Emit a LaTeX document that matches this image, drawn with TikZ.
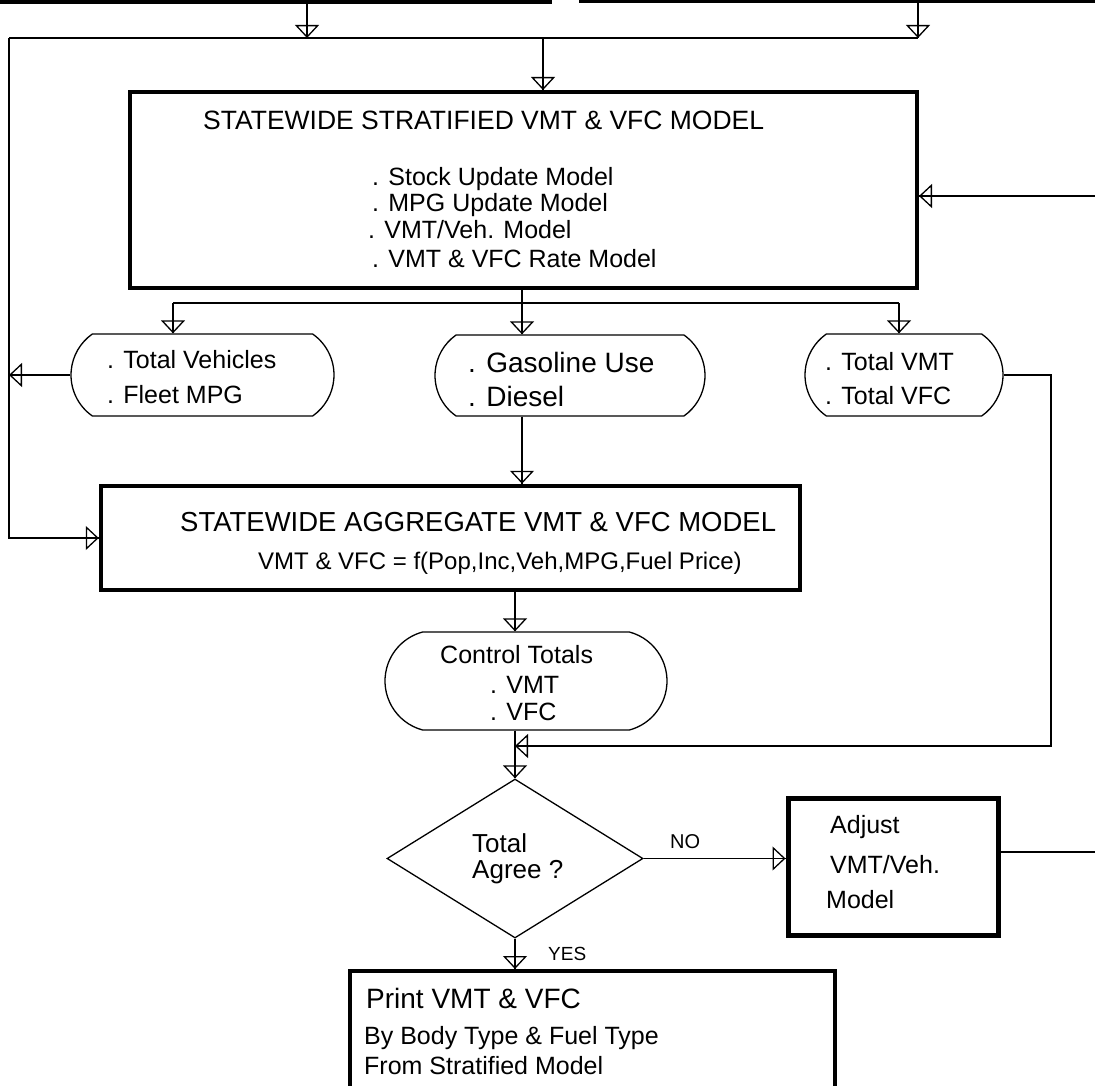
\documentclass[tikz,border=0pt]{standalone}
\usepackage{fontspec}
\setmainfont{Liberation Sans}
\usetikzlibrary{arrows.meta,positioning,calc,shapes.misc,shapes.geometric}

\tikzset{
  line/.style={draw, line width=1.3pt},
  flow/.style={line, -{Triangle[open, length=13pt, width=24pt]}, postaction={draw, arrows=-}},
  box/.style={draw, line width=4pt, inner sep=0pt},
  term/.style={draw, line width=1.3pt, rounded rectangle, rounded rectangle arc length=110, inner sep=0pt},
  txt/.style={anchor=base west, inner sep=0pt, font=\fontsize{25}{30}\selectfont},
  lbl/.style={anchor=base west, inner sep=0pt, font=\fontsize{19}{22}\selectfont}
}

\begin{document}
\begin{tikzpicture}[x=1pt, y=-1pt]
\useasboundingbox (0,0) rectangle (1095,1086);
\clip (0,0) rectangle (1095,1086);

% boxes cut off by the top edge
\node[box, line width=4.3pt, minimum width=570pt, minimum height=62pt] (topL) at (265,-29) {};
\node[box, line width=3pt, minimum width=535pt, minimum height=61.5pt] (topR) at (847.5,-29.25) {};

% main blocks
\node[box, minimum width=787pt, minimum height=196pt] (strat) at (523.5,190) {};
\node[box, line width=4.5pt, minimum width=699pt, minimum height=104pt] (agg) at (450.5,538) {};
\node[term, minimum width=263pt, minimum height=82pt] (veh) at (202.5,375) {};
\node[term, minimum width=270pt, minimum height=81pt] (gas) at (570,375.5) {};
\node[term, minimum width=198pt, minimum height=82pt] (vmt) at (904,375) {};
\node[term, rounded rectangle arc length=150, minimum width=282pt, minimum height=98pt] (ctl) at (526,681) {};
\node[draw, line width=1.3pt, diamond, inner sep=0pt, minimum width=256pt, minimum height=159pt] (dec) at (515,858.5) {};
\node[box, line width=5pt, minimum width=210pt, minimum height=137pt] (adj) at (893,866.5) {};
\node[box, minimum width=485pt, minimum height=140pt] (prt) at (592.5,1041) {};

% texts
\node[txt, font=\fontsize{26.5}{30}\selectfont] (stratT) at (203,130) {STATEWIDE STRATIFIED VMT \& VFC MODEL};
\node[txt] (stratA) at (372,186) {. Stock Update Model};
\node[txt] (stratB) at (372,212) {. MPG Update Model};
\node[txt] (stratC) at (368,239) {. VMT/Veh. Model};
\node[txt] (stratD) at (372,267) {. VMT \& VFC Rate Model};

\node[txt, font=\fontsize{27.5}{32}\selectfont] (aggT) at (180,531) {STATEWIDE AGGREGATE VMT \& VFC MODEL};
\node[txt, font=\fontsize{24}{28}\selectfont] (aggF) at (258,569) {VMT \& VFC = f(Pop,Inc,Veh,MPG,Fuel Price)};

\node[txt] (vehA) at (107,368) {. Total Vehicles};
\node[txt] (vehB) at (107,403) {. Fleet MPG};
\node[txt, font=\fontsize{28}{32}\selectfont] (gasA) at (468,372) {. Gasoline Use};
\node[txt, font=\fontsize{28}{32}\selectfont] (gasB) at (468,406) {. Diesel};
\node[txt] (vmtA) at (825,370) {. Total VMT};
\node[txt] (vmtB) at (825,404) {. Total VFC};

\node[txt] (ctlA) at (440,663) {Control Totals};
\node[txt] (ctlB) at (490,693) {. VMT};
\node[txt] (ctlC) at (490,720) {. VFC};

\node[txt, font=\fontsize{26}{30}\selectfont] (decA) at (472,852) {Total};
\node[txt, font=\fontsize{26}{30}\selectfont] (decB) at (472,878) {Agree ?};

\node[txt] (adjA) at (830,833) {Adjust};
\node[txt] (adjB) at (830,873) {VMT/Veh.};
\node[txt] (adjC) at (826,908) {Model};

\node[txt, font=\fontsize{28}{32}\selectfont] (prtA) at (366,1008) {Print VMT \& VFC};
\node[txt] (prtB) at (364,1044) {By Body Type \& Fuel Type};
\node[txt] (prtC) at (364,1074) {From Stratified Model};

\node[lbl, font=\fontsize{20}{24}\selectfont] (no) at (670,848) {NO};
\node[lbl] (yes) at (548,960) {YES};

% junction points
\coordinate (tapL) at (307,38);
\coordinate (tapR) at (918,38);
\coordinate (busL) at (9,38);
\coordinate (tapS) at (543,38);
\coordinate (brC) at (522,303);
\coordinate (brL) at (173,303);
\coordinate (brR) at (899,303);
\coordinate (colD) at (515,746);
\coordinate (fbR) at (1051,746);
\coordinate (loopB) at (1110,852);
\coordinate (loopT) at (1110,196);

% connectors
\draw[flow] (topL.south -| tapL) -- (tapL);
\draw[flow] (topR.south -| tapR) -- (tapR);
\draw[line] (busL) -- (tapR);
\draw[flow] (tapS) -- (tapS |- strat.north);
\draw[flow] (busL) |- (agg.west);

\draw[line] (strat.south -| brC) -- (brC);
\draw[line] (brL) -- (brR);
\draw[flow] (brL) -- (brL |- veh.north);
\draw[flow] (brC) -- (brC |- gas.north);
\draw[flow] (brR) -- (brR |- vmt.north);

\draw[flow] (veh.west) -- (veh.west -| busL);
\draw[flow] (brC |- gas.south) -- (brC |- agg.north);
\draw[flow] (colD |- agg.south) -- (colD |- ctl.north);
\draw[flow] (colD |- ctl.south) -- (dec.north);
\draw[flow] (vmt.east) -- (vmt.east -| fbR) -- (fbR) -- (colD);

\draw[flow] (dec.east) -- (dec.east -| adj.west);
\draw[flow] (dec.south) -- (dec.south |- prt.north);
\draw[flow] (adj.east |- loopB) -- (loopB) -- (loopT) -- (loopT -| strat.east);
\end{tikzpicture}
\end{document}
